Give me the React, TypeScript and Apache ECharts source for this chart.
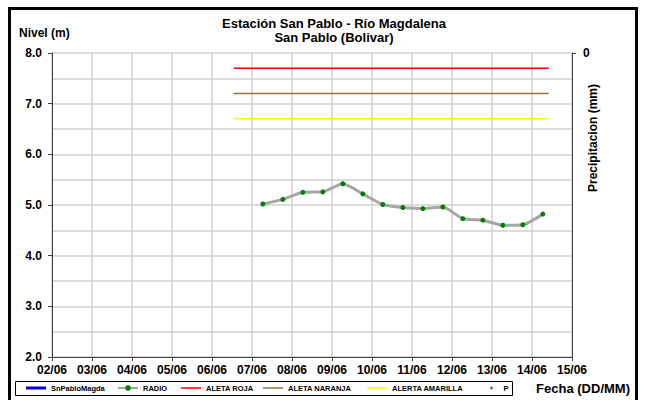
import React, { useEffect, useRef } from 'react';
import * as echarts from 'echarts';

const dateLabels = ['02/06', '03/06', '04/06', '05/06', '06/06', '07/06', '08/06', '09/06', '10/06', '11/06', '12/06', '13/06', '14/06', '15/06'];

const radioTimes = [
  '07/06 06:30', '07/06 18:30', '08/06 06:30', '08/06 18:30', '09/06 06:30', '09/06 18:30',
  '10/06 06:30', '10/06 18:30', '11/06 06:30', '11/06 18:30', '12/06 06:30', '12/06 18:30',
  '13/06 06:30', '13/06 18:30', '14/06 06:30',
];
const radioLevels = [5.02, 5.11, 5.25, 5.26, 5.42, 5.22, 5.01, 4.95, 4.93, 4.96, 4.73, 4.70, 4.60, 4.61, 4.82];

const alertTimes = ['06/06 13:00', '14/06 10:00'];
const alertaRoja = [7.7, 7.7];
const alertaNaranja = [7.2, 7.2];
const alertaAmarilla = [6.7, 6.7];

const FONT = "'Liberation Sans', Arial, sans-serif";

function toDay(s: string): number {
  const [d, t] = s.split(' ');
  const dd = Number(d.split('/')[0]);
  const [hh, mm] = t.split(':').map(Number);
  const first = Number(dateLabels[0].split('/')[0]);
  return dd - first + (hh + mm / 60) / 24;
}

const zip = (times: string[], vals: number[]) => times.map((t, i) => [toDay(t), vals[i]]);

export default function App() {
  const ref = useRef<HTMLDivElement>(null);
  useEffect(() => {
    document.body.style.margin = '0';
    const chart = echarts.init(ref.current!, null, { renderer: 'svg' });
    const legendText = { fontSize: 7.5, fontWeight: 'bold' as const, fontFamily: FONT, color: '#000' };
    const mkLegend = (name: string, left: number, itemWidth = 20, itemHeight = 7, icon?: string) => ({
      data: [icon ? { name, icon } : name], left, top: 384, itemWidth, itemHeight, padding: 0, itemGap: 0,
      textStyle: legendText, selectedMode: false,
    });
    chart.setOption({
      animation: false,
      backgroundColor: '#fff',
      grid: { left: 52, right: 86, top: 53, bottom: 43 },
      legend: [
        mkLegend('SnPabloMagda', 26, 20, 3, 'rect'),
        mkLegend('RADIO', 117, 20, 7),
        mkLegend('ALETA ROJA', 181, 20, 1.5, 'rect'),
        mkLegend('ALETA NARANJA', 263, 20, 1.5, 'rect'),
        mkLegend('ALERTA AMARILLA', 367, 20, 1.5, 'rect'),
        mkLegend('P', 490, 14, 3),
      ],
      xAxis: {
        type: 'value', min: 0, max: dateLabels.length - 1, interval: 1,
        axisLine: { show: true, onZero: false, lineStyle: { color: '#404040', width: 1 } },
        axisTick: { show: true, length: 4, lineStyle: { color: '#404040' } },
        axisLabel: {
          formatter: (v: number) => dateLabels[Math.round(v)] ?? '',
          fontSize: 12, fontWeight: 'bold', fontFamily: FONT, color: '#000', margin: 7,
        },
        splitLine: { show: true, lineStyle: { color: '#d0d0d0', width: 1.5 } },
      },
      yAxis: [
        {
          type: 'value', min: 2, max: 8, interval: 1,
          axisLine: { show: true, onZero: false, lineStyle: { color: '#404040', width: 1 } },
          axisTick: { show: true, length: 4, lineStyle: { color: '#404040' } },
          axisLabel: {
            formatter: (v: number) => v.toFixed(1),
            fontSize: 12, fontWeight: 'bold', fontFamily: FONT, color: '#000', margin: 10,
          },
          splitLine: { show: true, lineStyle: { color: '#d0d0d0', width: 1.5 } },
          minorTick: { show: false, splitNumber: 2 },
          minorSplitLine: { show: true, lineStyle: { color: '#d0d0d0', width: 1.5 } },
        },
        {
          type: 'value', min: 0, max: 1, interval: 1, inverse: true, position: 'right',
          axisLine: { show: true, onZero: false, lineStyle: { color: '#404040', width: 1 } },
          axisTick: { show: true, length: 4, lineStyle: { color: '#404040' }, customValues: [0] },
          axisLabel: {
            formatter: (v: number) => (v === 0 ? '0' : ''),
            customValues: [0],
            fontSize: 12, fontWeight: 'bold', fontFamily: FONT, color: '#000', margin: 11,
          },
          splitLine: { show: false },
        },
      ],
      series: [
        {
          name: 'SnPabloMagda', type: 'line', data: [], symbol: 'none',
          color: '#0000ff', lineStyle: { color: '#0000ff', width: 3 },
        },
        {
          name: 'RADIO', type: 'line', data: zip(radioTimes, radioLevels),
          smooth: 0.2, symbol: 'circle', symbolSize: 5,
          itemStyle: { color: '#008000' },
          lineStyle: { color: '#a6a6a6', width: 3 },
          z: 5,
        },
        {
          name: 'ALETA ROJA', type: 'line', data: zip(alertTimes, alertaRoja), symbol: 'none',
          color: '#ff0000', lineStyle: { color: '#ff0000', width: 1.5 },
        },
        {
          name: 'ALETA NARANJA', type: 'line', data: zip(alertTimes, alertaNaranja), symbol: 'none',
          color: '#a0703c', lineStyle: { color: '#a0703c', width: 1.5 },
        },
        {
          name: 'ALERTA AMARILLA', type: 'line', data: zip(alertTimes, alertaAmarilla), symbol: 'none',
          color: '#ffff00', lineStyle: { color: '#ffff00', width: 1.5 },
        },
        {
          name: 'P', type: 'scatter', data: [], yAxisIndex: 1, symbolSize: 3,
          itemStyle: { color: '#008000' },
        },
      ],
      graphic: [
        {
          type: 'rect', silent: true,
          shape: { x: 9.5, y: 8.5, width: 627, height: 400 },
          style: { fill: 'none', stroke: '#000', lineWidth: 3 },
        },
        {
          type: 'rect', silent: true,
          shape: { x: 15.5, y: 381.5, width: 497, height: 14 },
          style: { fill: 'none', stroke: '#000', lineWidth: 1 },
        },
        {
          type: 'text', x: 334, y: 23,
          style: { text: 'Estación San Pablo - Río Magdalena', fontSize: 13, fontWeight: 'bold', fontFamily: FONT, fill: '#000', align: 'center', verticalAlign: 'middle' },
        },
        {
          type: 'text', x: 334, y: 37,
          style: { text: 'San Pablo (Bolivar)', fontSize: 13, fontWeight: 'bold', fontFamily: FONT, fill: '#000', align: 'center', verticalAlign: 'middle' },
        },
        {
          type: 'text', x: 19, y: 33,
          style: { text: 'Nivel (m)', fontSize: 12, fontWeight: 'bold', fontFamily: FONT, fill: '#000', align: 'left', verticalAlign: 'middle' },
        },
        {
          type: 'text', x: 630, y: 388,
          style: { text: 'Fecha (DD/MM)', fontSize: 13, fontWeight: 'bold', fontFamily: FONT, fill: '#000', align: 'right', verticalAlign: 'middle' },
        },
        {
          type: 'text', x: 593, y: 138, rotation: Math.PI / 2,
          style: { text: 'Precipitacion (mm)', fontSize: 12, fontWeight: 'bold', fontFamily: FONT, fill: '#000', align: 'center', verticalAlign: 'middle' },
        },
      ],
    });
    return () => chart.dispose();
  }, []);
  return <div ref={ref} style={{ width: 658, height: 400 }} />;
}
